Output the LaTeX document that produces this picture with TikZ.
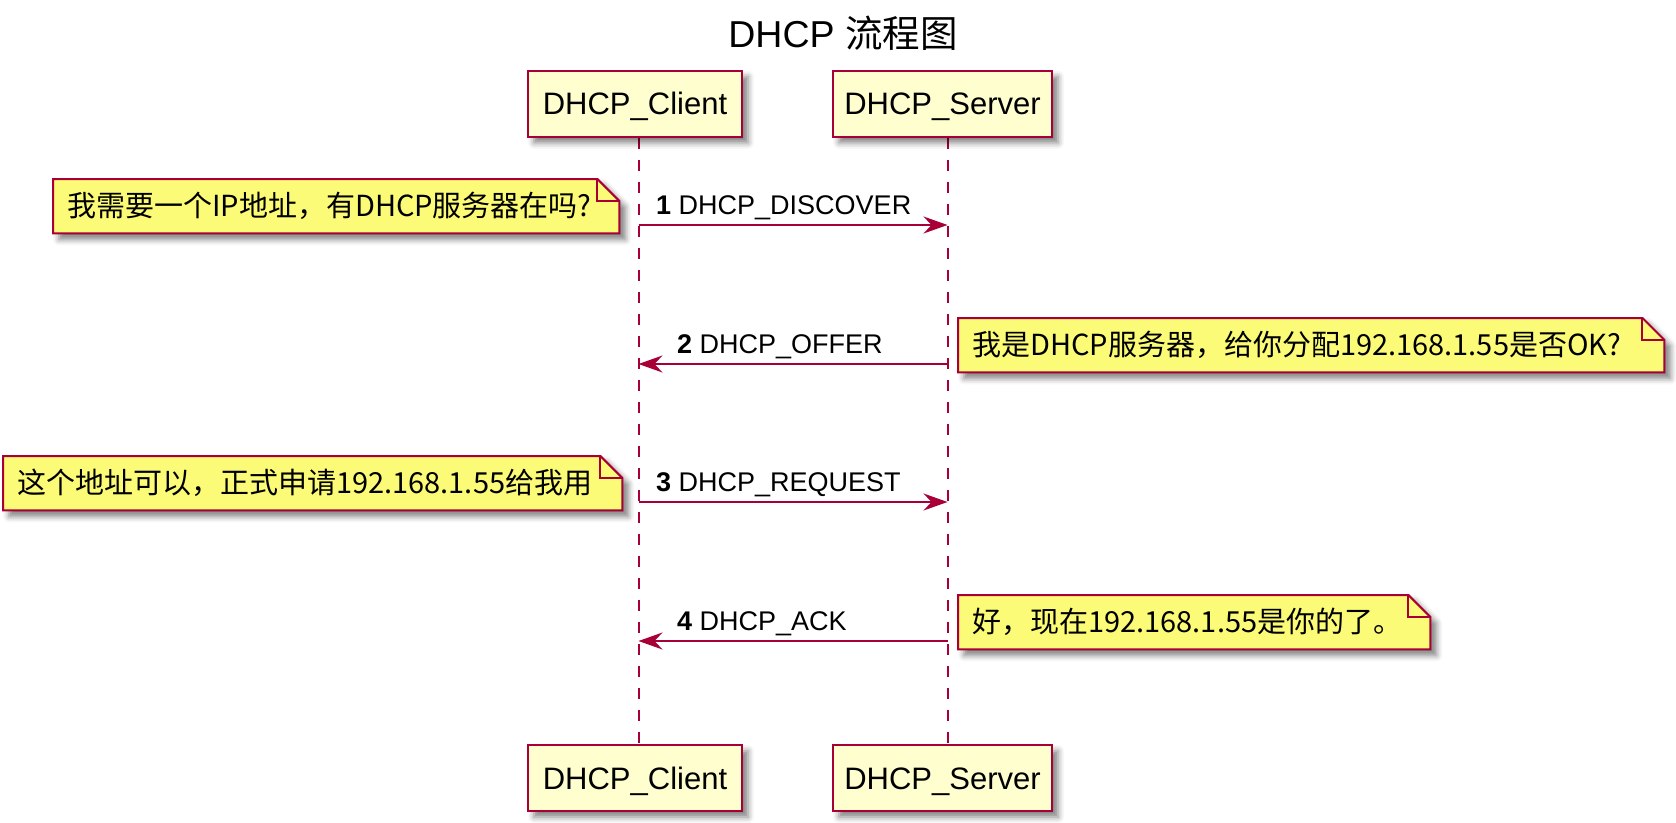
\documentclass[tikz,border=0pt]{standalone}
\usepackage{fontspec}
\setmainfont{Liberation Sans}
\newfontfamily\cjk{Noto Sans CJK SC}
\usetikzlibrary{arrows.meta,shadows.blur}
\definecolor{pborder}{HTML}{A80036}
\definecolor{pfill}{HTML}{FEFECE}
\definecolor{nfill}{HTML}{FBFB77}
\pgfdeclarelayer{background}
\pgfsetlayers{background,main}
\tikzset{
  softshadow/.style={blur shadow={shadow xshift=6pt,shadow yshift=-6pt,shadow blur radius=6pt,shadow opacity=50}},
  part/.style={draw=pborder,line width=2.5pt,fill=pfill,softshadow,minimum height=66pt,
    inner sep=0pt,text height=22pt,text depth=0pt,font=\fontsize{31}{35}\selectfont},
  life/.style={draw=pborder,line width=2pt,dash pattern=on 11pt off 11pt},
  msg/.style={draw=pborder,line width=2pt,-{Stealth[length=24pt,width=17pt,inset=8pt]}},
  lbl/.style={inner sep=0pt,font=\fontsize{27}{31}\selectfont},
  notetext/.style={anchor=north west,inner xsep=14pt,inner ysep=0pt,minimum height=54pt,
    text width=#1-28pt,align=left,font=\cjk\fontsize{29}{33}\selectfont},
  notebg/.style={draw=pborder,line width=2pt,fill=nfill,softshadow,line join=miter},
  notefold/.style={draw=pborder,line width=2pt},
}
\newcommand\foldnote[1]{%
  \begin{pgfonlayer}{background}
    \path[notebg] (#1.south west) -- (#1.north west) -- ([xshift=-22pt]#1.north east)
      -- ([yshift=-22pt]#1.north east) -- (#1.south east) -- cycle;
    \path[notefold] ([xshift=-22pt]#1.north east) |- ([yshift=-22pt]#1.north east);
  \end{pgfonlayer}}
\begin{document}
\begin{tikzpicture}[x=1pt,y=-1pt]
\useasboundingbox (0,0) rectangle (1676,822);
% title
\node[anchor=base,inner sep=0pt,font=\fontsize{37.5}{42}\selectfont] (title) at (843,47.5) {DHCP {\cjk 流程图}};
% participants
\node[part,minimum width=214pt] (ct) at (635,103.8) {DHCP\_Client};
\node[part,minimum width=219pt] (st) at (942.5,103.8) {DHCP\_Server};
\node[part,minimum width=214pt] (cb) at (635,778) {DHCP\_Client};
\node[part,minimum width=219pt] (sb) at (942.5,778) {DHCP\_Server};
% lifelines
\begin{pgfonlayer}{background}
\path[life] ([xshift=3.5pt]ct.south) -- ([xshift=3.5pt]cb.north);
\path[life] ([xshift=5pt]st.south) -- ([xshift=5pt]sb.north);
\end{pgfonlayer}
% message end points on lifelines
\coordinate (c1) at (638.5,225);   \coordinate (s1) at (947.5,225);
\coordinate (c2) at (638.5,364);   \coordinate (s2) at (947.5,364);
\coordinate (c3) at (638.5,502);   \coordinate (s3) at (947.5,502);
\coordinate (c4) at (638.5,641);   \coordinate (s4) at (947.5,641);
\draw[msg] (c1) -- (s1);
\draw[msg] (s2) -- (c2);
\draw[msg] (c3) -- (s3);
\draw[msg] (s4) -- (c4);
\node[lbl,anchor=base west] (l1) at (656,214.5) {\textbf{1} DHCP\_DISCOVER};
\node[lbl,anchor=base west] (l2) at (677,353.5) {\textbf{2} DHCP\_OFFER};
\node[lbl,anchor=base west] (l3) at (656,491.5) {\textbf{3} DHCP\_REQUEST};
\node[lbl,anchor=base west] (l4) at (677,630.5) {\textbf{4} DHCP\_ACK};
% notes
\node[notetext=566pt] (n1) at (53,179) {我需要一个IP地址，有DHCP服务器在吗?};
\foldnote{n1}
\node[notetext=706pt] (n2) at (958,318) {我是DHCP服务器，给你分配192.168.1.55是否OK?};
\foldnote{n2}
\node[notetext=619pt] (n3) at (3,456) {这个地址可以，正式申请192.168.1.55给我用};
\foldnote{n3}
\node[notetext=472pt] (n4) at (958,595) {好，现在192.168.1.55是你的了。};
\foldnote{n4}
\end{tikzpicture}
\end{document}
